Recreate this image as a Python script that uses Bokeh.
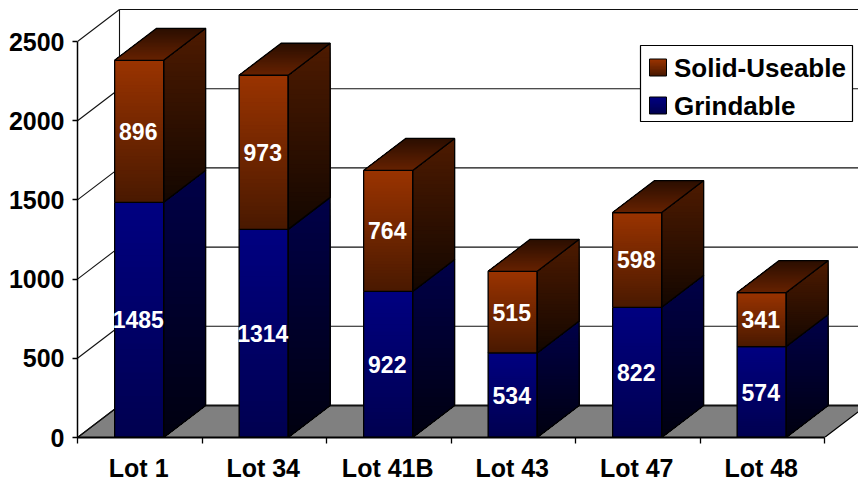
from bokeh.plotting import figure
from bokeh.models import Range1d, FixedTicker, LinearAxis
from bokeh.core.properties import value
from bokeh.embed import file_html
from bokeh.resources import INLINE

categories = ["Lot 1", "Lot 34", "Lot 41B", "Lot 43", "Lot 47", "Lot 48"]
grindable = [1485, 1314, 922, 534, 822, 574]
solid_useable = [896, 973, 764, 515, 598, 341]
y_ticks = [0, 500, 1000, 1500, 2000, 2500]

FONT = value("Liberation Sans")
W, H = 858, 478
LEFT, BOTTOM = 77, 41
FW, FH = W - LEFT, H - BOTTOM
CAT_PX = 124.5
Y_PX = 0.1584
X_END = FW / CAT_PX
Y_END = FH / Y_PX
DX = 42 / CAT_PX
DY = 32 / Y_PX
BAR_W = 0.394
BAR_SHIFT = -0.6 / CAT_PX
LABEL_SHIFT = -1.5 / CAT_PX


def px_x(px):
    return (px - LEFT) / CAT_PX


def px_y(py):
    return (H - BOTTOM - py) / Y_PX


def lerp(c1, c2, t):
    return "#%02x%02x%02x" % tuple(round(a + (b - a) * t) for a, b in zip(c1, c2))


def clip_below(poly, yc):
    out = []
    n = len(poly)
    for i in range(n):
        (x1, y1), (x2, y2) = poly[i], poly[(i + 1) % n]
        if y1 <= yc:
            out.append((x1, y1))
        if (y1 <= yc) != (y2 <= yc):
            t = (yc - y1) / (y2 - y1)
            out.append((x1 + (x2 - x1) * t, yc))
    return out


def gradient(p, poly, top, bottom, steps=40):
    ys = [q[1] for q in poly]
    y0, y1 = min(ys), max(ys)
    xs_all, ys_all, colors = [], [], []
    for i in range(steps):
        t = i / (steps - 1)
        part = clip_below(poly, y1 - (y1 - y0) * i / steps)
        if len(part) < 3:
            continue
        xs_all.append([q[0] for q in part])
        ys_all.append([q[1] for q in part])
        colors.append(lerp(top, bottom, t))
    p.patches(xs_all, ys_all, fill_color=colors, line_color=None)


def outline(p, poly, width=1.3):
    xs = [q[0] for q in poly] + [poly[0][0]]
    ys = [q[1] for q in poly] + [poly[0][1]]
    p.line(xs, ys, line_color="#000000", line_width=width)


BROWN = dict(front=((0x99, 0x33, 0x00), (0x4a, 0x19, 0x00)),
             side=((0x4d, 0x1a, 0x00), (0x14, 0x07, 0x00)),
             top=((0x66, 0x22, 0x00), (0x2b, 0x0e, 0x00)))
BLUE = dict(front=((0x00, 0x00, 0x80), (0x00, 0x00, 0x50)),
            side=((0x00, 0x00, 0x48), (0x00, 0x00, 0x10)),
            top=((0x00, 0x00, 0x60), (0x00, 0x00, 0x30)))

p = figure(frame_width=FW, frame_height=FH, width=W, height=H,
           x_range=Range1d(0, X_END), y_range=Range1d(0, Y_END),
           output_backend="svg", toolbar_location=None,
           x_axis_type=None, y_axis_type=None,
           min_border_left=LEFT, min_border_bottom=BOTTOM,
           min_border_top=0, min_border_right=0)
p.outline_line_color = None
p.grid.visible = False

# floor
floor = [(0, 0), (6, 0), (6 + DX, DY), (DX, DY)]
p.patch([q[0] for q in floor], [q[1] for q in floor],
        fill_color="#808080", line_color="#000000", line_width=1.2)

# walls and gridlines
for v in y_ticks:
    p.line([0, DX], [v, v + DY], line_color="#111111", line_width=1.1)
    p.line([DX, 6 + DX], [v + DY, v + DY], line_color="#111111",
           line_width=2 if v == 0 else 1.1)
p.line([DX, DX], [DY, y_ticks[-1] + DY], line_color="#111111", line_width=1.1)

# bars
for i in range(len(categories)):
    x0 = i + 0.5 - BAR_W / 2 + BAR_SHIFT
    x1 = i + 0.5 + BAR_W / 2 + BAR_SHIFT
    base = 0
    for val, pal in ((grindable[i], BLUE), (solid_useable[i], BROWN)):
        top = base + val
        front = [(x0, base), (x1, base), (x1, top), (x0, top)]
        side = [(x1, base), (x1 + DX, base + DY), (x1 + DX, top + DY), (x1, top)]
        gradient(p, front, *pal["front"])
        gradient(p, side, *pal["side"])
        outline(p, front)
        outline(p, side)
        if pal is BROWN:
            lid = [(x0, top), (x1, top), (x1 + DX, top + DY), (x0 + DX, top + DY)]
            gradient(p, lid, *pal["top"][::-1])
            outline(p, lid)
        p.text([i + 0.5 + LABEL_SHIFT], [base + val / 2], text=[str(val)], text_color="#ffffff",
               text_font=FONT, text_font_style="bold", text_font_size="23px",
               text_align="center", text_baseline="middle")
        base = top

# legend
box = [(px_x(640), px_y(121)), (px_x(852), px_y(121)), (px_x(852), px_y(45)), (px_x(640), px_y(45))]
p.patch([q[0] for q in box], [q[1] for q in box], fill_color="#ffffff",
        line_color="#000000", line_width=1.2)
for label, pal, cy in (("Solid-Useable", BROWN, 67), ("Grindable", BLUE, 105)):
    sw = [(px_x(649), px_y(cy + 8.5)), (px_x(666), px_y(cy + 8.5)),
          (px_x(666), px_y(cy - 8.5)), (px_x(649), px_y(cy - 8.5))]
    gradient(p, sw, *pal["front"], steps=12)
    outline(p, sw, 1)
    p.text([px_x(673.5)], [px_y(cy)], text=[label], text_color="#000000",
           text_font=FONT, text_font_style="bold", text_font_size="26px",
           text_align="left", text_baseline="middle")

# axes
ya = LinearAxis(bounds=(0, y_ticks[-1]), ticker=FixedTicker(ticks=y_ticks))
ya.major_tick_in = 0
ya.major_tick_out = 5
ya.minor_tick_out = 0
ya.minor_tick_in = 0
ya.major_tick_line_width = 1.3
ya.axis_line_width = 1.5
ya.axis_line_color = "#000000"
ya.major_label_standoff = 8
ya.major_label_text_font = "Liberation Sans"
ya.major_label_text_font_style = "bold"
ya.major_label_text_font_size = "25px"
ya.major_label_text_color = "#000000"
p.add_layout(ya, "left")

centers = [i + 0.5 + LABEL_SHIFT * 0.7 for i in range(len(categories))]
bounds = list(range(len(categories) + 1))
xa = LinearAxis(bounds=(0, len(categories)),
                ticker=FixedTicker(ticks=centers, minor_ticks=bounds))
xa.major_label_overrides = {c: n for c, n in zip(centers, categories)}
xa.major_tick_in = 0
xa.major_tick_out = 0
xa.minor_tick_in = 0
xa.minor_tick_out = 6
xa.minor_tick_line_width = 1.3
xa.axis_line_width = 2
xa.axis_line_color = "#000000"
xa.major_label_standoff = 10
xa.major_label_text_baseline = "middle"
xa.major_label_text_font = "Liberation Sans"
xa.major_label_text_font_style = "bold"
xa.major_label_text_font_size = "25px"
xa.major_label_text_color = "#000000"
p.add_layout(xa, "below")

open("out.html", "w").write(file_html(p, INLINE))
